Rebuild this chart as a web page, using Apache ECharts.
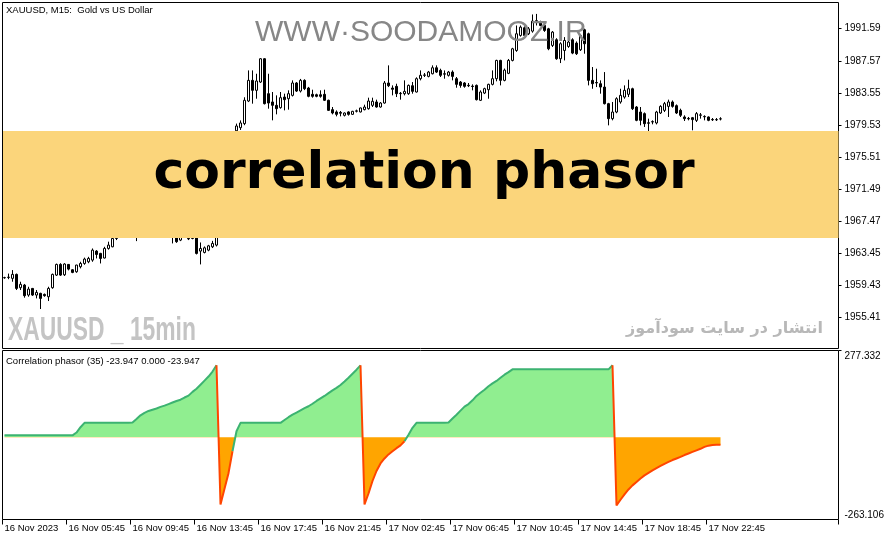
<!DOCTYPE html>
<html><head><meta charset="utf-8">
<script src="https://cdn.jsdelivr.net/npm/echarts@6/dist/echarts.min.js"></script>
<style>html,body{margin:0;padding:0;background:#fff}#c{width:892px;height:541px}</style>
</head><body><div id="c"></div>
<script>
// ---------------- data ----------------
const symbolTitle = 'XAUUSD, M15:  Gold vs US Dollar';
const indicatorTitle = 'Correlation phasor (35) -23.947 0.000 -23.947';
const watermarkTop = 'WWW\u00B7SOODAMOOZ.IR';
const bannerText = 'correlation phasor';
const watermarkLeft = 'XAUUSD _ 15min';
const watermarkRight = 'انتشار در سایت سودآموز';

const timeLabels = ['16 Nov 2023','16 Nov 05:45','16 Nov 09:45','16 Nov 13:45','16 Nov 17:45','16 Nov 21:45',
  '17 Nov 02:45','17 Nov 06:45','17 Nov 10:45','17 Nov 14:45','17 Nov 18:45','17 Nov 22:45'];
const barsPerLabel = 16;
const totalSlots = 209;

const priceTicks = [1955.41,1959.43,1963.45,1967.47,1971.49,1975.51,1979.53,1983.55,1987.57,1991.59];
const priceMin = 1951.51, priceMax = 1994.88;
const phasorMin = -263.106, phasorMax = 277.332;

const open = [1960.38,1960.45,1960.30,1960.80,1959.13,1959.46,1958.21,1959.04,1958.21,1958.42,
1958.29,1958.00,1959.13,1960.71,1962.05,1960.75,1962.05,1961.38,1961.13,1961.76,
1962.17,1962.38,1962.59,1963.72,1963.43,1962.85,1964.05,1964.26,1965.30,1966.50,
1967.20,1966.80,1968.00,1967.50,1966.90,1968.20,1969.00,1968.60,1969.40,1968.80,
1968.10,1967.40,1966.60,1966.00,1965.10,1965.60,1965.30,1965.30,1966.40,1963.72,
1963.55,1963.84,1964.26,1964.47,1966.50,1969.50,1972.80,1976.20,1978.80,1979.19,
1979.70,1982.53,1985.12,1983.87,1984.91,1987.83,1983.45,1982.41,1981.99,1981.70,
1983.03,1982.82,1983.24,1984.79,1983.78,1985.12,1984.16,1983.37,1983.32,1983.32,
1983.37,1982.62,1981.45,1981.16,1981.10,1980.74,1981.16,1980.86,1981.25,1981.16,
1981.45,1981.57,1981.99,1982.41,1981.78,1982.28,1984.79,1984.16,1984.37,1983.45,
1983.45,1983.45,1984.45,1983.66,1985.33,1985.75,1985.62,1985.95,1986.70,1986.37,
1985.95,1985.75,1986.16,1985.33,1984.91,1984.79,1984.50,1984.40,1984.49,1982.62,
1983.53,1983.95,1984.62,1985.33,1987.62,1985.12,1986.00,1987.62,1988.87,1990.75,
1991.71,1990.96,1991.29,1992.60,1992.42,1992.00,1991.58,1989.50,1990.21,1987.83,
1988.87,1989.37,1990.21,1989.79,1988.96,1991.46,1990.96,1985.12,1984.85,1984.70,
1984.28,1982.20,1980.32,1981.15,1982.41,1983.03,1983.37,1984.07,1981.78,1981.15,
1980.95,1979.80,1979.90,1979.78,1981.03,1981.36,1981.86,1982.41,1981.95,1981.36,
1980.53,1980.35,1980.44,1980.11,1980.74,1980.60,1980.53,1980.22,1980.20,1980.28];
const high = [1960.50,1960.90,1961.34,1960.90,1959.88,1959.60,1959.25,1959.10,1958.84,1958.50,
1958.40,1959.25,1960.90,1962.15,1962.20,1962.20,1962.10,1961.45,1962.00,1962.38,
1962.90,1963.00,1964.05,1963.84,1963.50,1964.26,1964.90,1966.00,1966.80,1967.60,
1967.90,1968.30,1968.60,1967.80,1968.50,1969.40,1969.50,1969.80,1969.70,1969.00,
1968.30,1967.60,1966.90,1966.20,1965.90,1966.60,1965.60,1966.50,1966.60,1964.80,
1964.30,1964.50,1965.00,1966.90,1970.00,1973.50,1976.80,1978.60,1979.70,1980.10,
1983.00,1986.37,1986.37,1985.95,1987.90,1987.90,1985.95,1983.66,1983.24,1983.66,
1983.45,1983.87,1985.12,1984.91,1985.30,1985.25,1984.30,1983.95,1983.45,1983.87,
1983.95,1982.70,1981.78,1981.36,1981.28,1981.10,1981.25,1981.30,1981.45,1981.70,
1982.07,1982.95,1982.95,1982.70,1982.40,1985.04,1987.00,1984.49,1984.70,1983.66,
1985.12,1984.60,1984.91,1985.50,1986.37,1986.04,1986.30,1987.00,1987.00,1986.58,
1986.37,1986.30,1986.37,1985.54,1985.04,1984.90,1984.79,1984.62,1984.60,1983.87,
1984.20,1984.70,1986.37,1987.70,1987.70,1986.60,1987.80,1989.20,1992.00,1992.00,
1991.90,1991.80,1993.38,1993.45,1992.60,1992.10,1991.70,1991.30,1990.40,1989.90,
1990.54,1990.10,1990.40,1990.00,1990.90,1991.60,1991.10,1986.79,1986.58,1985.12,
1986.16,1982.30,1982.41,1983.00,1984.07,1984.49,1985.20,1984.20,1981.90,1981.78,
1981.10,1980.32,1980.11,1981.30,1982.00,1982.41,1982.70,1982.60,1982.10,1981.57,
1980.74,1980.53,1980.53,1981.15,1981.03,1980.74,1980.60,1980.40,1980.40,1980.50];
const low = [1960.25,1960.20,1959.88,1958.84,1958.84,1957.88,1958.00,1958.10,1957.79,1956.46,
1958.00,1957.46,1959.00,1960.60,1960.60,1960.60,1961.30,1960.95,1961.00,1961.55,
1962.00,1962.20,1962.38,1962.80,1962.17,1962.80,1963.90,1964.20,1965.10,1966.20,
1966.40,1966.60,1967.20,1964.97,1966.70,1967.90,1968.30,1968.40,1968.50,1967.80,
1967.10,1966.30,1964.68,1964.75,1964.97,1965.40,1965.10,1965.20,1963.30,1962.05,
1963.43,1963.70,1964.10,1964.30,1966.20,1969.20,1972.50,1975.90,1978.60,1978.90,
1979.50,1982.40,1982.20,1982.82,1984.80,1982.10,1981.57,1980.11,1980.86,1981.57,
1981.36,1981.45,1983.10,1983.66,1983.60,1983.90,1983.00,1982.95,1983.00,1982.95,
1982.53,1981.28,1980.86,1980.61,1980.61,1980.60,1980.70,1980.80,1981.10,1981.10,
1981.36,1981.45,1981.78,1981.70,1981.70,1982.20,1984.28,1983.24,1983.03,1982.70,
1983.24,1983.30,1983.45,1983.60,1985.12,1985.54,1985.50,1985.87,1986.04,1985.54,
1985.33,1985.60,1985.12,1984.20,1984.20,1984.20,1984.28,1983.87,1982.60,1982.53,
1983.40,1982.82,1984.49,1985.00,1984.49,1985.00,1985.90,1987.50,1988.70,1990.60,
1990.60,1990.80,1991.10,1992.00,1991.90,1991.20,1988.90,1989.30,1987.70,1987.29,
1987.62,1989.20,1988.40,1988.30,1988.80,1988.46,1984.49,1984.07,1984.28,1983.45,
1982.10,1979.48,1980.11,1981.00,1982.20,1982.82,1983.03,1981.40,1980.00,1979.48,
1979.28,1978.65,1979.61,1979.60,1980.90,1981.15,1980.53,1981.70,1980.90,1980.53,
1980.03,1980.11,1978.86,1979.90,1980.32,1980.11,1980.00,1980.03,1980.03,1980.10];
const close = [1960.40,1960.42,1960.80,1959.04,1959.55,1958.13,1958.96,1958.21,1958.54,1957.79,
1958.13,1959.04,1960.80,1962.05,1960.71,1962.10,1961.46,1961.05,1961.97,1962.17,
1962.72,1962.80,1963.84,1963.30,1962.80,1964.05,1964.47,1965.30,1966.50,1967.20,
1966.80,1968.00,1967.50,1966.90,1968.20,1969.00,1968.60,1969.40,1968.80,1968.10,
1967.40,1966.60,1966.00,1964.90,1965.60,1966.30,1965.25,1966.20,1963.43,1964.05,
1964.13,1964.38,1964.68,1966.50,1969.50,1972.80,1976.20,1978.40,1979.40,1979.78,
1982.62,1985.12,1983.87,1985.04,1987.83,1982.20,1982.28,1981.99,1981.57,1982.95,
1982.70,1983.45,1984.79,1983.78,1985.12,1984.08,1983.12,1983.12,1983.12,1983.12,
1982.62,1981.36,1981.03,1980.86,1981.00,1981.03,1980.86,1981.24,1981.30,1981.66,
1981.78,1982.53,1982.50,1981.78,1982.28,1984.79,1984.45,1984.00,1983.45,1983.50,
1983.74,1984.49,1983.74,1985.33,1985.75,1985.80,1986.16,1986.70,1986.16,1985.75,
1985.90,1986.16,1985.62,1984.62,1984.49,1984.37,1984.45,1984.35,1982.70,1983.66,
1984.08,1984.62,1985.33,1987.62,1985.12,1986.40,1987.62,1989.08,1990.96,1991.79,
1990.75,1991.58,1992.54,1992.50,1992.00,1991.38,1989.08,1991.17,1987.83,1989.71,
1990.12,1989.92,1988.54,1988.46,1990.75,1989.71,1985.12,1984.70,1984.80,1984.28,
1982.20,1980.32,1981.15,1982.82,1983.24,1983.87,1984.07,1981.57,1980.11,1980.11,
1979.69,1979.75,1979.95,1981.15,1981.86,1982.20,1982.41,1981.86,1981.03,1980.74,
1980.32,1980.30,1980.20,1980.95,1980.80,1980.55,1980.11,1980.18,1980.18,1980.30];

const phasor = [6,6,6,6,6,6,6,6,6,6,6,6,6,6,6,6,6,6,15,32,
46,46,46,46,46,46,46,46,46,46,46,46,47,58,70,78,84,88,92,97,
101,106,111,116,120,127,133,145,155,168,181,194,210,230,-215,-165,-115,-45,19,46,
46,46,46,46,46,46,46,46,46,46,55,64,72,79,86,93,99,107,116,124,
132,141,150,158,167,178,190,203,216,230,-215,-180,-140,-108,-84,-68,-55,-45,-35,-26,
-13,8,30,46,46,46,46,46,46,46,46,47,60,72,85,98,106,118,132,142,
152,163,172,180,190,200,208,217,217,217,217,217,217,217,217,217,217,217,217,217,
217,217,217,217,217,217,217,217,217,217,217,217,230,-218,-200,-183,-167,-154,-143,-132,
-122,-114,-106,-99,-92,-85,-79,-73,-68,-63,-57,-52,-47,-42,-37,-31,-27,-25,-24,-23.947];

// ---------------- chart ----------------
const FONT = 'Liberation Sans';
const slots = Array.from({length: totalSlots}, (_, i) => String(i));
const candles = open.map((o, i) => [o, close[i], low[i], high[i]]);
const greenLine = phasor.map((v, i) => (v >= 0 || (i + 1 < phasor.length && phasor[i + 1] >= 0)) ? v : null);
const redLine = phasor.map((v, i) => (v < 0 || (i + 1 < phasor.length && phasor[i + 1] < 0)) ? v : null);

const G0 = {left: 2.5, top: 2.5, width: 836, height: 346};
const G1 = {left: 2.5, top: 350.5, width: 836, height: 169};
const unitsPerPx = (phasorMax - phasorMin) / G1.height;
// area fill: green above the zero level, orange below (global pixel gradient)
const zeroFrac = phasorMax / (phasorMax - phasorMin);
const areaFill = {
  type: 'linear', global: true, x: 0, y: G1.top, x2: 0, y2: G1.top + G1.height,
  colorStops: [
    {offset: 0, color: '#90EE90'}, {offset: zeroFrac, color: '#90EE90'},
    {offset: zeroFrac, color: '#FFA500'}, {offset: 1, color: '#FFA500'}
  ]
};

const showLabel = (idx) => idx % barsPerLabel === 0 && idx / barsPerLabel < timeLabels.length;

const chart = echarts.init(document.getElementById('c'), null, {renderer: 'canvas'});
chart.setOption({
  animation: false,
  backgroundColor: '#ffffff',
  textStyle: {fontFamily: FONT},
  grid: [
    Object.assign({show: true, borderColor: '#000', borderWidth: 1, backgroundColor: '#fff', containLabel: false}, G0),
    Object.assign({show: true, borderColor: '#000', borderWidth: 1, backgroundColor: '#fff', containLabel: false}, G1)
  ],
  xAxis: [
    {type: 'category', gridIndex: 0, data: slots, boundaryGap: true,
     axisLine: {show: false, onZero: false}, axisTick: {show: false}, axisLabel: {show: false}, splitLine: {show: false}},
    {type: 'category', gridIndex: 1, data: slots, boundaryGap: true, position: 'bottom',
     axisLine: {show: false, onZero: false},
     axisTick: {show: true, interval: (idx) => showLabel(idx), length: 5, lineStyle: {color: '#000', width: 1}},
     axisLabel: {show: true, interval: (idx) => showLabel(idx), align: 'left', margin: 4,
       fontSize: 9.5, color: '#000', fontFamily: FONT,
       formatter: (v, idx) => showLabel(idx) ? timeLabels[idx / barsPerLabel] : ''},
     splitLine: {show: false}}
  ],
  yAxis: [
    {type: 'value', gridIndex: 0, position: 'right', min: priceMin, max: priceMax, scale: true,
     axisLine: {show: false}, splitLine: {show: false},
     axisTick: {show: true, length: 3, customValues: priceTicks, lineStyle: {color: '#000'}},
     axisLabel: {show: true, customValues: priceTicks, margin: 6, fontSize: 10, color: '#000', fontFamily: FONT,
       formatter: (v) => v.toFixed(2)}},
    {type: 'value', gridIndex: 1, position: 'right', min: phasorMin, max: phasorMax,
     axisLine: {show: false}, splitLine: {show: false},
     axisTick: {show: true, length: 3, customValues: [phasorMax], lineStyle: {color: '#000'}},
     axisLabel: {show: true, customValues: [phasorMax - 5.5 * unitsPerPx, phasorMin + 4.5 * unitsPerPx],
       margin: 6, fontSize: 10, color: '#000', fontFamily: FONT,
       formatter: (v) => v > 0 ? phasorMax.toFixed(3) : phasorMin.toFixed(3)}}
  ],
  series: [
    {type: 'candlestick', xAxisIndex: 0, yAxisIndex: 0, data: candles, barWidth: 2,
     itemStyle: {color: '#ffffff', color0: '#000000', borderColor: '#000000', borderColor0: '#000000', borderWidth: 1}},
    {type: 'line', xAxisIndex: 1, yAxisIndex: 1, data: phasor, symbol: 'none',
     lineStyle: {width: 0, opacity: 0}, areaStyle: {opacity: 1, color: areaFill, origin: 0}, z: 2},
    {type: 'line', xAxisIndex: 1, yAxisIndex: 1, data: greenLine, symbol: 'none', connectNulls: false,
     lineStyle: {width: 2, color: '#3CB371'}, itemStyle: {color: '#3CB371'}, z: 3},
    {type: 'line', xAxisIndex: 1, yAxisIndex: 1, data: redLine, symbol: 'none', connectNulls: false,
     lineStyle: {width: 2, color: '#FF4500'}, itemStyle: {color: '#FF4500'}, z: 4}
  ],
  graphic: [
    {type: 'rect', z: 50, shape: {x: 3, y: 131, width: 835.5, height: 107}, style: {fill: '#FBD57B'}},
    {type: 'text', z: 60, x: 424, y: 174,
     style: {text: bannerText, font: 'bold 52px "DejaVu Sans"', fill: '#000', textAlign: 'center', textVerticalAlign: 'middle'}},
    {type: 'text', z: 60, x: 255, y: 33,
     style: {text: watermarkTop, font: '30px "Liberation Sans"', fill: '#878787', textAlign: 'left', textVerticalAlign: 'middle'}},
    {type: 'text', z: 60, x: 8, y: 331, scaleX: 0.672,
     style: {text: watermarkLeft, font: 'bold 34px "Liberation Sans"', fill: '#c4c4c4', textAlign: 'left', textVerticalAlign: 'middle'}},
    {type: 'text', z: 60, x: 823, y: 329,
     style: {text: watermarkRight, font: 'bold 16px "DejaVu Sans"', fill: '#b8b8b8', textAlign: 'right', textVerticalAlign: 'middle'}},
    {type: 'text', z: 60, x: 6, y: 10,
     style: {text: symbolTitle, font: '9.5px "Liberation Sans"', fill: '#000', textAlign: 'left', textVerticalAlign: 'middle'}},
    {type: 'text', z: 60, x: 6, y: 361,
     style: {text: indicatorTitle, font: '9.5px "Liberation Sans"', fill: '#000', textAlign: 'left', textVerticalAlign: 'middle'}}
  ]
});
</script>
</body></html>
